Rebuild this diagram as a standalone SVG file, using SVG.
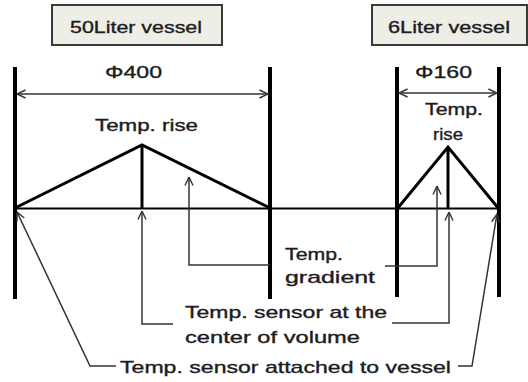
<svg xmlns="http://www.w3.org/2000/svg" width="528" height="382" viewBox="0 0 528 382">
<defs>
<marker id="ah" viewBox="0 0 10 10" refX="9.5" refY="5" markerWidth="10" markerHeight="10" markerUnits="userSpaceOnUse" orient="auto-start-reverse">
<path d="M1,1 L9.5,5 L1,9" fill="none" stroke="#333" stroke-width="1.4"/>
</marker>
<style>
text{font-family:"Liberation Sans",Arial,sans-serif;font-size:17px;fill:#1c1c22;stroke:#1c1c22;stroke-width:0.35;}
.box{fill:#eeeee6;stroke:#3a3a3a;stroke-width:2;}
.wall{stroke:#000;stroke-width:4;fill:none;}
.tri{stroke:#000;stroke-width:3;fill:none;stroke-linejoin:miter;}
.base{stroke:#000;stroke-width:2.2;fill:none;}
.dim{stroke:#333;stroke-width:1.6;fill:none;}
.con{stroke:#333;stroke-width:1.5;fill:none;}
</style>
</defs>
<rect width="528" height="382" fill="#fff"/>
<g id="title50">
<rect class="box" x="52" y="5" width="170" height="40"/>
<text x="70" y="33" textLength="132" lengthAdjust="spacingAndGlyphs">50Liter vessel</text>
</g>
<g id="title6">
<rect class="box" x="372" y="5" width="155" height="40"/>
<text x="388" y="33" textLength="122" lengthAdjust="spacingAndGlyphs">6Liter vessel</text>
</g>
<g id="vessel50">
<line class="wall" x1="15" y1="67" x2="15" y2="299"/>
<line class="wall" x1="270" y1="67" x2="270" y2="299"/>
<polyline class="tri" points="15,208 142,145 270,208"/>
<line class="tri" x1="142" y1="145" x2="142" y2="208"/>
<text x="105" y="78" textLength="57" lengthAdjust="spacingAndGlyphs">Φ400</text>
<text x="95" y="131" textLength="103" lengthAdjust="spacingAndGlyphs">Temp. rise</text>
</g>
<g id="vessel6">
<line class="wall" x1="397" y1="67" x2="397" y2="297"/>
<line class="wall" x1="499" y1="67" x2="499" y2="297"/>
<polyline class="tri" points="397,209 448,147 499,209"/>
<line class="tri" x1="448" y1="147" x2="448" y2="209"/>
<text x="415" y="78" textLength="57" lengthAdjust="spacingAndGlyphs">Φ160</text>
<text x="425" y="115" textLength="58" lengthAdjust="spacingAndGlyphs">Temp.</text>
<text x="433" y="140" textLength="30" lengthAdjust="spacingAndGlyphs">rise</text>
</g>
<g id="label-gradient">
<text x="285" y="260" textLength="58" lengthAdjust="spacingAndGlyphs">Temp.</text>
<text x="285" y="283" textLength="90" lengthAdjust="spacingAndGlyphs">gradient</text>
</g>
<g id="label-center">
<text x="185" y="318" textLength="202" lengthAdjust="spacingAndGlyphs">Temp. sensor at the</text>
<text x="185" y="343" textLength="175" lengthAdjust="spacingAndGlyphs">center of volume</text>
</g>
<g id="label-vessel">
<text x="120" y="373" textLength="331" lengthAdjust="spacingAndGlyphs">Temp. sensor attached to vessel</text>
</g>
<g id="connectors">
<line class="base" x1="15" y1="208.5" x2="499" y2="208.5"/>
<line class="dim" x1="17" y1="94" x2="268" y2="94" marker-start="url(#ah)" marker-end="url(#ah)"/>
<line class="dim" x1="399" y1="93" x2="497" y2="93" marker-start="url(#ah)" marker-end="url(#ah)"/>
<polyline class="con" points="17,212 90,366 116,366" marker-start="url(#ah)"/>
<polyline class="con" points="497,214 472,366 458,366" marker-start="url(#ah)"/>
<polyline class="con" points="142,211 142,324 173,324" marker-start="url(#ah)"/>
<polyline class="con" points="449,212 449,323 392,323" marker-start="url(#ah)"/>
<polyline class="con" points="189,177 189,265 270,265" marker-start="url(#ah)"/>
<polyline class="con" points="437,186 437,266 385,266" marker-start="url(#ah)"/>
</g>
</svg>
